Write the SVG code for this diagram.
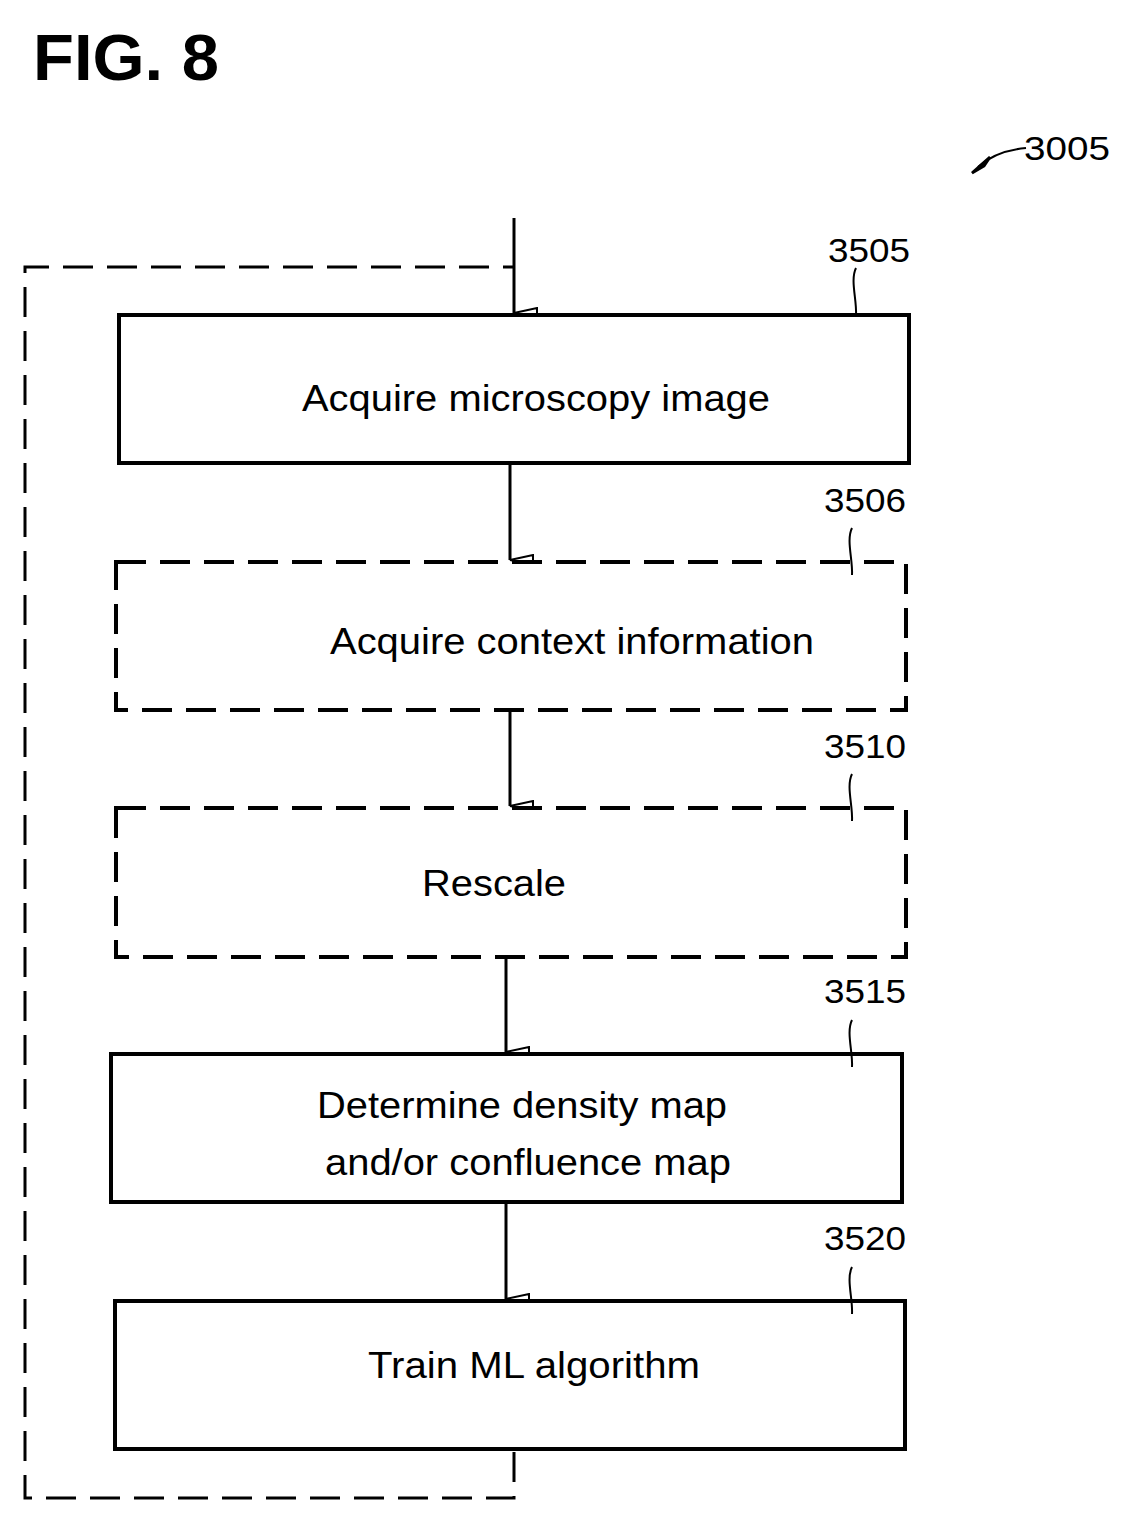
<svg xmlns="http://www.w3.org/2000/svg" width="1128" height="1522" viewBox="0 0 1128 1522">
<style>
text{font-family:"Liberation Sans",Arial,sans-serif;fill:#000}
.lbl{font-size:36px}
.ref{font-size:34px}
.box{fill:#fff;stroke:#000;stroke-width:4}
.dash{stroke-dasharray:30 14}
.ln{fill:none;stroke:#000;stroke-width:3}
.lead{fill:none;stroke:#000;stroke-width:2}
</style>
<defs>
<marker id="ah" markerWidth="12" markerHeight="26" refX="6" refY="24" orient="auto" markerUnits="userSpaceOnUse" viewBox="0 0 12 26">
<path d="M1,1 L11,1 L6,24 Z" fill="#fff" stroke="#000" stroke-width="2"/>
</marker>
</defs>
<rect width="1128" height="1522" fill="#fff"/>
<text x="33" y="80" font-size="64" font-weight="bold" textLength="186" lengthAdjust="spacingAndGlyphs">FIG. 8</text>
<g id="ref3005">
<text class="ref" x="1024" y="160" textLength="86" lengthAdjust="spacingAndGlyphs">3005</text>
<path class="lead" d="M1026,148 C1005,150 990,156 978,167"/>
<path d="M972,173 L990,157 L984,166 Z" fill="#000" stroke="#000" stroke-width="3"/>
</g>
<g id="connectors">
<path class="ln dash" d="M514,1452 V1498 H25 V267 H514" stroke-dasharray="30 14"/>
<line class="ln" x1="514" y1="218" x2="514" y2="313" marker-end="url(#ah)"/>
<line class="ln" x1="510" y1="463" x2="510" y2="560" marker-end="url(#ah)"/>
<line class="ln" x1="510" y1="710" x2="510" y2="806" marker-end="url(#ah)"/>
<line class="ln" x1="506" y1="957" x2="506" y2="1052" marker-end="url(#ah)"/>
<line class="ln" x1="506" y1="1202" x2="506" y2="1299" marker-end="url(#ah)"/>
</g>
<g id="n3505">
<rect class="box" x="119" y="315" width="790" height="148"/>
<text class="lbl" x="536" y="411" text-anchor="middle" textLength="468" lengthAdjust="spacingAndGlyphs">Acquire microscopy image</text>
<text class="ref" x="828" y="262" textLength="82" lengthAdjust="spacingAndGlyphs">3505</text>
<path class="lead" d="M856,268 C850,280 857,300 856,315"/>
</g>
<g id="n3506">
<rect class="box dash" x="116" y="562" width="790" height="148"/>
<text class="lbl" x="572" y="654" text-anchor="middle" textLength="484" lengthAdjust="spacingAndGlyphs">Acquire context information</text>
<text class="ref" x="824" y="512" textLength="82" lengthAdjust="spacingAndGlyphs">3506</text>
<path class="lead" d="M852,528 C846,540 853,560 852,575"/>
</g>
<g id="n3510">
<rect class="box dash" x="116" y="808" width="790" height="149"/>
<text class="lbl" x="494" y="896" text-anchor="middle" textLength="144" lengthAdjust="spacingAndGlyphs">Rescale</text>
<text class="ref" x="824" y="758" textLength="82" lengthAdjust="spacingAndGlyphs">3510</text>
<path class="lead" d="M852,774 C846,786 853,806 852,821"/>
</g>
<g id="n3515">
<rect class="box" x="111" y="1054" width="791" height="148"/>
<text class="lbl" x="522" y="1118" text-anchor="middle" textLength="410" lengthAdjust="spacingAndGlyphs">Determine density map</text>
<text class="lbl" x="528" y="1175" text-anchor="middle" textLength="406" lengthAdjust="spacingAndGlyphs">and/or confluence map</text>
<text class="ref" x="824" y="1003" textLength="82" lengthAdjust="spacingAndGlyphs">3515</text>
<path class="lead" d="M852,1020 C846,1032 853,1052 852,1067"/>
</g>
<g id="n3520">
<rect class="box" x="115" y="1301" width="790" height="148"/>
<text class="lbl" x="534" y="1378" text-anchor="middle" textLength="332" lengthAdjust="spacingAndGlyphs">Train ML algorithm</text>
<text class="ref" x="824" y="1250" textLength="82" lengthAdjust="spacingAndGlyphs">3520</text>
<path class="lead" d="M852,1267 C846,1279 853,1299 852,1314"/>
</g>
</svg>
